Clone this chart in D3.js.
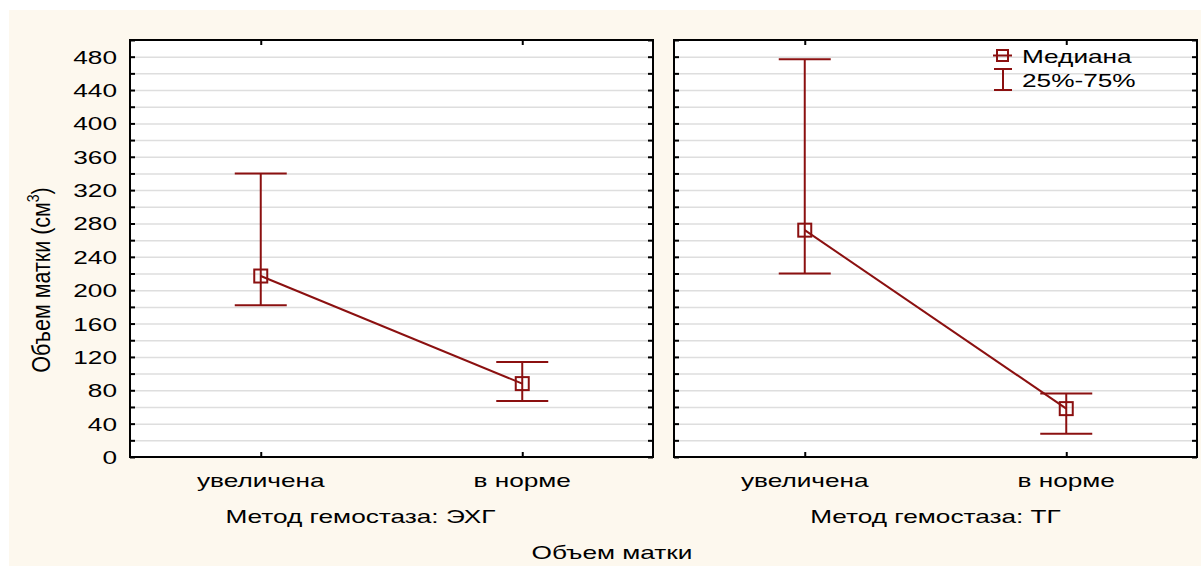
<!DOCTYPE html>
<html>
<head>
<meta charset="utf-8">
<script src="https://cdn.jsdelivr.net/npm/d3@7"></script>
<style>
  body { margin: 0; background: #fff; }
  text { font-family: "Liberation Sans", Arial, sans-serif; fill: #000; }
</style>
</head>
<body>
<div id="chart"></div>
<script>
// data
var categories = ["увеличена", "в норме"];
var panels = ["Метод гемостаза: ЭХГ", "Метод гемостаза: ТГ"];
var medians = [[217, 88], [272, 58]];
var q25 = [[182, 67], [220, 28]];
var q75 = [[340, 114], [477, 76]];
var yTicks = d3.range(0, 481, 40);
var yMinor = d3.range(0, 501, 20);

var W = 1204, H = 566;
var red = "#8b1010";
var SX = 1.38; // text in the original is stretched sideways
var panelW = 523,
    panelX = [130, 674],
    titleShift = [-31, 0],
    plotTop = 40, plotBottom = 457;

var svg = d3.select("#chart").append("svg")
    .attr("width", W)
    .attr("height", H);

// stretched label at (x, y)
function label(parent, x, y, txt, anchor) {
    return parent.append("text")
        .attr("transform", `translate(${x},${y}) scale(${SX},1)`)
        .attr("text-anchor", anchor || "start")
        .attr("font-size", 19)
        .text(txt);
}

// cream background
svg.append("rect")
    .attr("x", 9).attr("y", 10)
    .attr("width", 1192).attr("height", H - 10)
    .attr("fill", "#fdf8ee");

var y = d3.scaleLinear().domain([0, 500]).range([plotBottom, plotTop]);

panels.forEach(function (title, p) {
    var x0 = panelX[p];
    var x = d3.scalePoint()
        .domain(categories)
        .range([x0, x0 + panelW])
        .padding(0.5);

    var g = svg.append("g");

    g.append("rect")
        .attr("x", x0).attr("y", plotTop)
        .attr("width", panelW).attr("height", plotBottom - plotTop)
        .attr("fill", "#fff");

    // grid
    g.append("g")
        .attr("transform", `translate(${x0},0)`)
        .call(d3.axisLeft(y).tickValues(yMinor.slice(1, -1)).tickSize(-panelW).tickFormat(""))
        .call(s => s.select(".domain").remove())
        .selectAll("line").attr("stroke", "#dedede").attr("stroke-width", 1.5);

    // ticks on left and right edges
    g.append("g")
        .attr("transform", `translate(${x0},0)`)
        .call(d3.axisLeft(y).tickValues(yMinor).tickSize(-5).tickFormat(""))
        .call(s => s.select(".domain").remove())
        .selectAll("line").attr("stroke", "#000").attr("stroke-width", 2);
    g.append("g")
        .attr("transform", `translate(${x0 + panelW},0)`)
        .call(d3.axisRight(y).tickValues(yMinor).tickSize(-5).tickFormat(""))
        .call(s => s.select(".domain").remove())
        .selectAll("line").attr("stroke", "#000").attr("stroke-width", 2);

    // ticks on bottom and top
    g.append("g")
        .attr("transform", `translate(0,${plotBottom})`)
        .call(d3.axisBottom(x).tickSize(-5).tickFormat(""))
        .call(s => s.select(".domain").remove())
        .selectAll("line").attr("stroke", "#000").attr("stroke-width", 2);
    g.append("g")
        .attr("transform", `translate(0,${plotTop})`)
        .call(d3.axisTop(x).tickSize(-5).tickFormat(""))
        .call(s => s.select(".domain").remove())
        .selectAll("line").attr("stroke", "#000").attr("stroke-width", 2);

    categories.forEach(function (c) {
        label(g, x(c), 487, c, "middle");
    });

    if (p === 0) {
        yTicks.forEach(function (v) {
            label(g, x0 - 13, y(v) + 7, v, "end");
        });
    }

    // frame
    g.append("rect")
        .attr("x", x0).attr("y", plotTop)
        .attr("width", panelW).attr("height", plotBottom - plotTop)
        .attr("fill", "none").attr("stroke", "#000").attr("stroke-width", 2);

    // whiskers
    var pts = categories.map(function (c, i) {
        return { c: c, m: medians[p][i], lo: q25[p][i], hi: q75[p][i] };
    });
    var eb = g.append("g").attr("stroke", red).attr("stroke-width", 2).attr("fill", "none");
    pts.forEach(function (d) {
        eb.append("line").attr("x1", x(d.c)).attr("x2", x(d.c)).attr("y1", y(d.lo)).attr("y2", y(d.hi));
        eb.append("line").attr("x1", x(d.c) - 26).attr("x2", x(d.c) + 26).attr("y1", y(d.lo)).attr("y2", y(d.lo));
        eb.append("line").attr("x1", x(d.c) - 26).attr("x2", x(d.c) + 26).attr("y1", y(d.hi)).attr("y2", y(d.hi));
    });
    eb.append("path")
        .attr("d", d3.line().x(d => x(d.c)).y(d => y(d.m))(pts));
    eb.selectAll("rect").data(pts).join("rect")
        .attr("x", d => x(d.c) - 6.5).attr("y", d => y(d.m) - 6.5)
        .attr("width", 13).attr("height", 13);

    label(g, x0 + panelW / 2 + titleShift[p], 523, title, "middle");
});

// axis titles
label(svg, 612, 559, "Объем матки", "middle");

var yt = svg.append("text")
    .attr("transform", "translate(50,280) rotate(-90) scale(1,1.2)")
    .attr("text-anchor", "middle")
    .attr("font-size", 21.5);
yt.append("tspan").text("Объем матки (см");
yt.append("tspan").attr("font-size", 14).attr("dy", -9).text("3");
yt.append("tspan").attr("dy", 9).text(")");

// legend
var lg = svg.append("g").attr("stroke", red).attr("stroke-width", 2).attr("fill", "none");
lg.append("rect").attr("x", 997).attr("y", 50).attr("width", 11).attr("height", 11);
lg.append("line").attr("x1", 993).attr("x2", 1012).attr("y1", 55.5).attr("y2", 55.5);
lg.append("line").attr("x1", 1003).attr("x2", 1003).attr("y1", 69).attr("y2", 90);
lg.append("line").attr("x1", 994).attr("x2", 1012).attr("y1", 69).attr("y2", 69);
lg.append("line").attr("x1", 994).attr("x2", 1012).attr("y1", 90).attr("y2", 90);

label(svg, 1022, 63, "Медиана");
label(svg, 1022, 87, "25%-75%");
</script>
</body>
</html>
